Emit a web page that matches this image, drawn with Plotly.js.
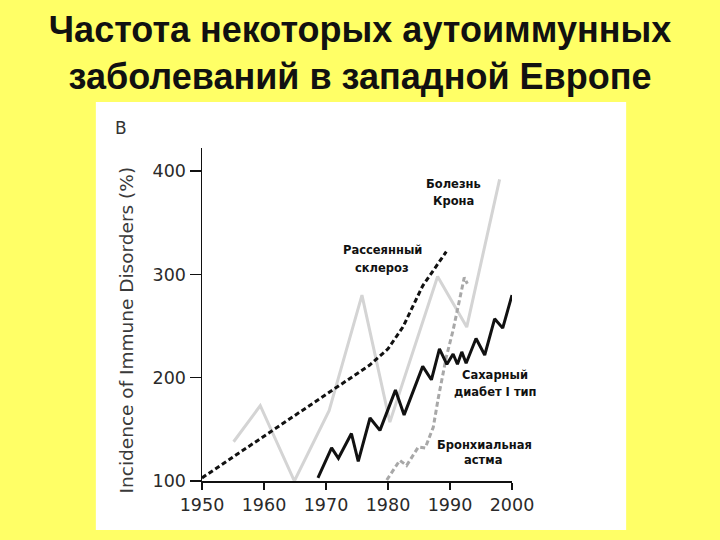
<!DOCTYPE html>
<html>
<head>
<meta charset="utf-8">
<script src="https://cdn.plot.ly/plotly-3.0.1.min.js"></script>
<style>
  html, body { margin: 0; padding: 0; background: #ffff66; }
  #chart { width: 720px; height: 540px; }
</style>
</head>
<body>
<div id="chart"></div>
<script>
// values (year, incidence %)
const crohnYears = [1955.1, 1959.4, 1964.9, 1970.5, 1975.8, 1980.3, 1988, 1992.7, 1998];
const crohnValues = [138, 173, 100, 168, 280, 157, 298, 249, 392];

const asthmaYears = [1979.8, 1981.9, 1983, 1984.9, 1986, 1987.3, 1988.1, 1989.4, 1990.5, 1991.5, 1992.3, 1992.8];
const asthmaValues = [101, 120, 115, 133, 132, 152, 180, 220, 246, 274, 297, 291];

const msYears = [1950, 1977, 1980, 1982.4, 1985.6, 1989.4];
const msValues = [103, 212, 228, 249, 289, 322];

const diabetesYears = [1968.7, 1970.9, 1972, 1974.1, 1975.2, 1977.1, 1978.7, 1981.2, 1982.6, 1985.6,
  1987, 1988.3, 1989.5, 1990.5, 1991.2, 1991.9, 1992.6, 1994.2, 1995.6, 1997.2, 1998.5, 2000];
const diabetesValues = [103, 132, 122, 146, 119, 161, 149, 188, 164, 211,
  198, 228, 213, 223, 213, 225, 214, 238, 222, 257, 248, 280];

const xTicks = [1950, 1960, 1970, 1980, 1990, 2000];
const yTicks = [100, 200, 300, 400];

const titleText = "Частота некоторых аутоиммунных<br>заболеваний в западной Европе";
const yTitleText = "Incidence of Immune Disorders (%)";
const panelLetter = "B";

// label lines for each disease: [text, year, value]
const labelLines = [
  ["Болезнь", 1990.5, 388],
  ["Крона", 1990.5, 371],
  ["Рассеянный", 1979.1, 323.5],
  ["склероз", 1979.0, 306],
  ["Сахарный", 1997.3, 202.5],
  ["диабет I тип", 1997.3, 186],
  ["Бронхиальная", 1995.6, 134.5],
  ["астма", 1995.3, 120],
];

function lineTrace(x, y, color, dash) {
  return {
    x: x,
    y: y,
    type: "scatter",
    mode: "lines",
    line: { color: color, width: 3, dash: dash },
    hoverinfo: "skip",
    showlegend: false,
  };
}

const traces = [
  lineTrace(crohnYears, crohnValues, "#d4d4d4", "solid"),
  lineTrace(asthmaYears, asthmaValues, "#a8a8a8", "5px,3px"),
  lineTrace(msYears, msValues, "#111111", "5px,3px"),
  lineTrace(diabetesYears, diabetesValues, "#111111", "solid"),
];

const tickFont = { family: "DejaVu Sans", size: 17.5, color: "#2a2a2a" };

const annotations = labelLines.map(([text, x, y]) => ({
  text: text,
  x: x,
  y: y,
  xref: "x",
  yref: "y",
  showarrow: false,
  xanchor: "center",
  yanchor: "middle",
  font: { family: "DejaVu Sans", size: 11.5, color: "#111111", weight: "bold" },
}));

annotations.push({
  text: panelLetter,
  x: -0.26,
  y: 1.06,
  xref: "paper",
  yref: "paper",
  showarrow: false,
  xanchor: "center",
  yanchor: "middle",
  font: { family: "DejaVu Sans", size: 17, color: "#333333" },
});

// y axis title, placed as in the original (a bit below the axis middle)
annotations.push({
  text: yTitleText,
  textangle: -90,
  x: -0.242,
  y: 0.455,
  xref: "paper",
  yref: "paper",
  showarrow: false,
  xanchor: "center",
  yanchor: "middle",
  font: { family: "DejaVu Sans", size: 18.5, color: "#3a3a3a" },
});

const layout = {
  width: 720,
  height: 540,
  margin: { l: 201.5, r: 207.5, t: 148, b: 59 },
  paper_bgcolor: "#ffff66",
  plot_bgcolor: "#ffffff",
  showlegend: false,
  title: {
    text: titleText,
    x: 0.5,
    xref: "container",
    xanchor: "center",
    y: 1 - 42 / 540,
    yref: "container",
    yanchor: "top",
    font: { family: "Liberation Sans", size: 36, color: "#111111", weight: "bold" },
  },
  xaxis: {
    range: [1950, 2000],
    tickvals: xTicks,
    ticktext: xTicks.map(String),
    showline: true,
    linecolor: "#111111",
    linewidth: 1.5,
    ticks: "outside",
    ticklen: 7,
    tickwidth: 1.5,
    tickcolor: "#111111",
    tickfont: tickFont,
    showgrid: false,
    zeroline: false,
    fixedrange: true,
  },
  yaxis: {
    range: [100, 422.4],
    tickvals: yTicks,
    ticktext: yTicks.map(String),
    showline: true,
    linecolor: "#111111",
    linewidth: 1.5,
    ticks: "outside",
    ticklen: 11,
    tickwidth: 1.5,
    tickcolor: "#111111",
    tickfont: tickFont,
    showgrid: false,
    zeroline: false,
    fixedrange: true,
  },
  shapes: [
    {
      // white panel the original figure sits on
      type: "rect",
      xref: "paper",
      yref: "paper",
      x0: -0.3424,
      x1: 1.3682,
      y0: -0.1471,
      y1: 1.1381,
      layer: "below",
      fillcolor: "#ffffff",
      line: { width: 0 },
    },
  ],
  annotations: annotations,
};

Plotly.newPlot("chart", traces, layout, { displayModeBar: false, staticPlot: true });
</script>
</body>
</html>
